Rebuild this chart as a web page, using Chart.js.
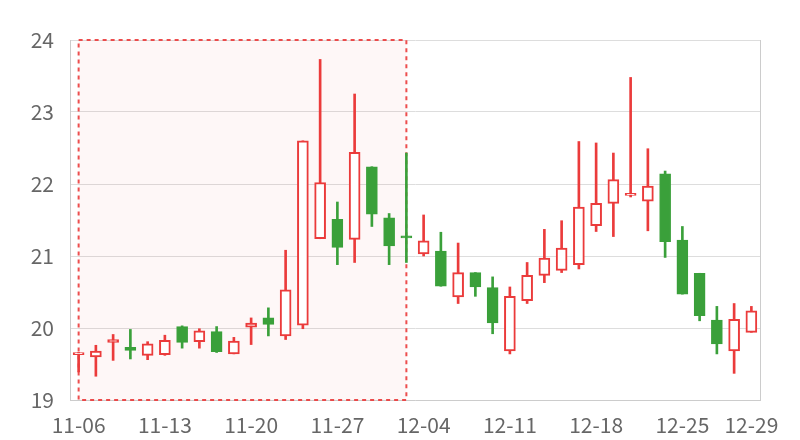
<!DOCTYPE html>
<html>
<head>
<meta charset="utf-8">
<script src="https://cdn.jsdelivr.net/npm/chart.js@4"></script>
<style>
  html, body { margin: 0; padding: 0; background: #fff; }
  #wrap { width: 800px; height: 440px; }
</style>
</head>
<body>
<div id="wrap"><canvas id="kChart"></canvas></div>
<script>
// 日期（交易日）
const dates = [
  '11-06','11-07','11-08','11-09','11-10',
  '11-13','11-14','11-15','11-16','11-17',
  '11-20','11-21','11-22','11-23','11-24',
  '11-27','11-28','11-29','11-30','12-01',
  '12-04','12-05','12-06','12-07','12-08',
  '12-11','12-12','12-13','12-14','12-15',
  '12-18','12-19','12-20','12-21','12-22',
  '12-25','12-26','12-27','12-28','12-29'
];
// 开 收 低 高
const openVals = [
  19.63,19.60,19.80,19.73,19.62, 19.63,20.02,19.81,19.95,19.64,
  20.01,20.14,19.89,20.04,21.24, 21.51,21.23,22.24,21.53,21.28,
  21.03,21.07,20.43,20.77,20.56, 19.68,20.38,20.73,20.80,20.88,
  21.42,21.73,21.84,21.76,22.14, 21.22,20.76,20.11,19.68,19.94
];
const closeVals = [
  19.66,19.68,19.84,19.69,19.78, 19.83,19.80,19.96,19.67,19.82,
  20.07,20.05,20.53,22.60,22.02, 21.12,22.44,21.58,21.14,21.25,
  21.21,20.58,20.77,20.57,20.07, 20.44,20.73,20.97,21.11,21.68,
  21.73,22.06,21.87,21.97,21.20, 20.47,20.17,19.78,20.12,20.24
];
const lowVals = [
  19.39,19.33,19.55,19.57,19.56, 19.62,19.72,19.72,19.66,19.64,
  19.77,19.89,19.84,19.99,21.24, 20.88,20.91,21.41,20.88,20.91,
  21.00,20.58,20.34,20.44,19.92, 19.64,20.34,20.63,20.77,20.82,
  21.34,21.27,21.82,21.35,20.98, 20.47,20.10,19.64,19.37,19.94
];
const highVals = [
  19.66,19.76,19.91,19.98,19.81, 19.90,20.03,19.99,20.02,19.87,
  20.14,20.28,21.08,22.60,23.73, 21.75,23.25,22.24,21.59,22.43,
  21.57,21.33,21.18,20.77,20.71, 20.57,20.91,21.37,21.49,22.59,
  22.57,22.43,23.48,22.49,22.18, 21.41,20.76,20.30,20.34,20.30
];
// 标记区域（起止日期）
const areaStart = '11-06';
const areaEnd = '12-01';

const upColor = '#eb3b3b';
const downColor = '#3aa03a';
const isUp = openVals.map((o, i) => closeVals[i] >= o);

// 标记区域 + 右边框
const markAreaPlugin = {
  id: 'markArea',
  beforeDatasetsDraw(chart) {
    const { ctx, chartArea, scales } = chart;
    const x1 = scales.x.getPixelForValue(dates.indexOf(areaStart));
    const x2 = scales.x.getPixelForValue(dates.indexOf(areaEnd));
    const y1 = scales.y.getPixelForValue(24);
    const y2 = scales.y.getPixelForValue(19);
    ctx.save();
    ctx.fillStyle = 'rgba(235, 59, 59, 0.04)';
    ctx.fillRect(x1, y1, x2 - x1, y2 - y1);
    ctx.strokeStyle = 'rgba(235, 59, 59, 0.9)';
    ctx.lineWidth = 2;
    ctx.setLineDash([4, 4]);
    ctx.strokeRect(x1, y1, x2 - x1, y2 - y1);
    ctx.setLineDash([]);
    ctx.strokeStyle = '#cccccc';
    ctx.lineWidth = 1;
    ctx.beginPath();
    ctx.moveTo(chartArea.right + 0.5, chartArea.top);
    ctx.lineTo(chartArea.right + 0.5, chartArea.bottom);
    ctx.stroke();
    ctx.restore();
  }
};

const ctx = document.getElementById('kChart').getContext('2d');
const kChart = new Chart(ctx, {
  type: 'bar',
  data: {
    labels: dates,
    datasets: [
      {
        label: 'body',
        data: openVals.map((o, i) => [o, closeVals[i]]),
        backgroundColor: isUp.map(u => u ? '#ffffff' : downColor),
        borderColor: isUp.map(u => u ? upColor : downColor),
        borderWidth: isUp.map(u => u ? 2 : 1),
        borderSkipped: false,
        barThickness: 11,
        minBarLength: 2,
        grouped: false,
        order: 0
      },
      {
        label: 'wick',
        data: lowVals.map((l, i) => [l, highVals[i]]),
        backgroundColor: isUp.map(u => u ? upColor : downColor),
        borderWidth: 0,
        barThickness: 2,
        grouped: false,
        order: 1
      }
    ]
  },
  options: {
    responsive: true,
    maintainAspectRatio: false,
    animation: false,
    layout: { padding: { left: 0, right: 40, top: 40, bottom: 0 } },
    plugins: {
      legend: { display: false },
      tooltip: { enabled: false }
    },
    scales: {
      x: {
        grid: { display: false, drawTicks: false },
        border: { display: true, color: '#cccccc' },
        ticks: {
          autoSkip: false,
          maxRotation: 0,
          padding: 12,
          color: '#666666',
          font: { family: 'Noto Sans CJK SC', size: 21 },
          callback: function (value, index) {
            if (index % 5 === 0 || index === dates.length - 1) return dates[index];
            return null;
          }
        },
        afterFit: scale => { scale.height = 40; }
      },
      y: {
        min: 19,
        max: 24,
        grid: { color: '#dddddd', drawTicks: false },
        border: { display: true, color: '#cccccc' },
        ticks: {
          stepSize: 1,
          padding: 16,
          color: '#666666',
          font: { family: 'Noto Sans CJK SC', size: 21 }
        },
        afterFit: scale => { scale.width = 70; }
      }
    }
  },
  plugins: [markAreaPlugin]
});
</script>
</body>
</html>
